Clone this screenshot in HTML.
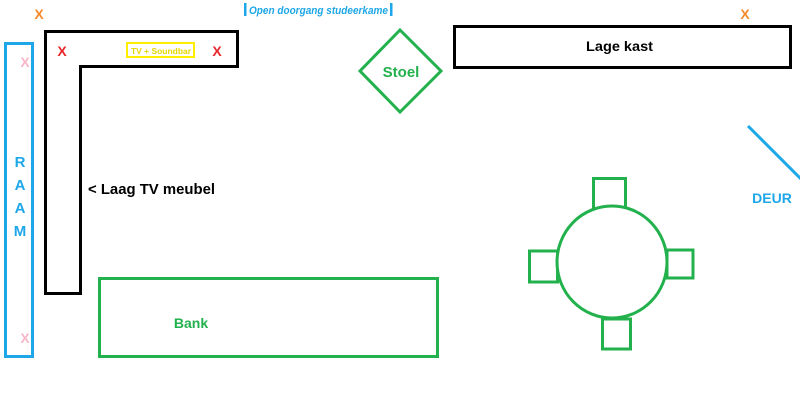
<!DOCTYPE html>
<html><head><style>
body{margin:0;background:#fff;width:800px;height:402px;overflow:hidden}
text{font-family:"Liberation Sans",sans-serif;font-weight:bold}
</style></head><body>
<svg width="800" height="402" viewBox="0 0 800 402">
<rect width="800" height="402" fill="#fff"/>
<!-- Raam -->
<rect x="5.5" y="43.5" width="27" height="313" fill="none" stroke="#1ea7e8" stroke-width="3"/>
<text x="20" y="167" font-size="15" fill="#1ea7e8" text-anchor="middle">R</text>
<text x="20" y="190" font-size="15" fill="#1ea7e8" text-anchor="middle">A</text>
<text x="20" y="213" font-size="15" fill="#1ea7e8" text-anchor="middle">A</text>
<text x="20" y="236" font-size="15" fill="#1ea7e8" text-anchor="middle">M</text>
<text x="25" y="67" font-size="14" fill="#f8b7c9" text-anchor="middle" font-weight="normal">X</text>
<text x="25" y="343" font-size="14" fill="#f8b7c9" text-anchor="middle" font-weight="normal">X</text>
<text x="39" y="19" font-size="14" fill="#f58a2b" text-anchor="middle">X</text>
<text x="745" y="19" font-size="14" fill="#f58a2b" text-anchor="middle">X</text>
<!-- L shape -->
<path d="M45.5 31.5 H237.5 V66.5 H80.5 V293.5 H45.5 Z" fill="none" stroke="#000" stroke-width="3"/>
<text x="62" y="56" font-size="14" fill="#e8262b" text-anchor="middle">X</text>
<text x="217" y="56" font-size="14" fill="#e8262b" text-anchor="middle">X</text>
<rect x="127" y="43" width="67" height="14" fill="none" stroke="#ffee00" stroke-width="2"/>
<text x="131" y="54" font-size="8" fill="#e6d800" textLength="60" lengthAdjust="spacingAndGlyphs">TV  + Soundbar</text>
<text x="88" y="194" font-size="15" fill="#000" textLength="127" lengthAdjust="spacingAndGlyphs">&lt; Laag TV meubel</text>
<!-- Open doorgang -->
<rect x="244" y="3" width="2.5" height="13" fill="#1ea7e8"/>
<rect x="390" y="3" width="2.5" height="13" fill="#1ea7e8"/>
<text x="249" y="14" font-size="11" fill="#1ea7e8" font-style="italic" font-weight="normal" textLength="139" lengthAdjust="spacingAndGlyphs">Open doorgang studeerkame</text>
<!-- Stoel -->
<polygon points="400,30 441,71 400,112 360,71" fill="none" stroke="#22b14c" stroke-width="3"/>
<text x="401" y="77" font-size="15" fill="#22b14c" text-anchor="middle">Stoel</text>
<!-- Lage kast -->
<rect x="454.5" y="26.5" width="336" height="41" fill="none" stroke="#000" stroke-width="3"/>
<text x="586" y="51" font-size="14" fill="#000" textLength="67" lengthAdjust="spacingAndGlyphs">Lage kast</text>
<!-- Deur -->
<line x1="748" y1="126" x2="802" y2="180" stroke="#1ea7e8" stroke-width="3"/>
<text x="772" y="203" font-size="14" fill="#1ea7e8" text-anchor="middle">DEUR</text>
<!-- Table -->
<g fill="none" stroke="#22b14c" stroke-width="3">
<rect x="593.5" y="178.5" width="32" height="30"/>
<rect x="529.5" y="251" width="28" height="31"/>
<rect x="667" y="250" width="26" height="28"/>
<rect x="602.5" y="319" width="28" height="30"/>
<ellipse cx="612" cy="262" rx="55" ry="56" fill="#fff"/>
</g>
<!-- Bank -->
<rect x="99.5" y="278.5" width="338" height="78" fill="none" stroke="#22b14c" stroke-width="3"/>
<text x="191" y="328" font-size="14" fill="#22b14c" text-anchor="middle">Bank</text>
</svg>
</body></html>
